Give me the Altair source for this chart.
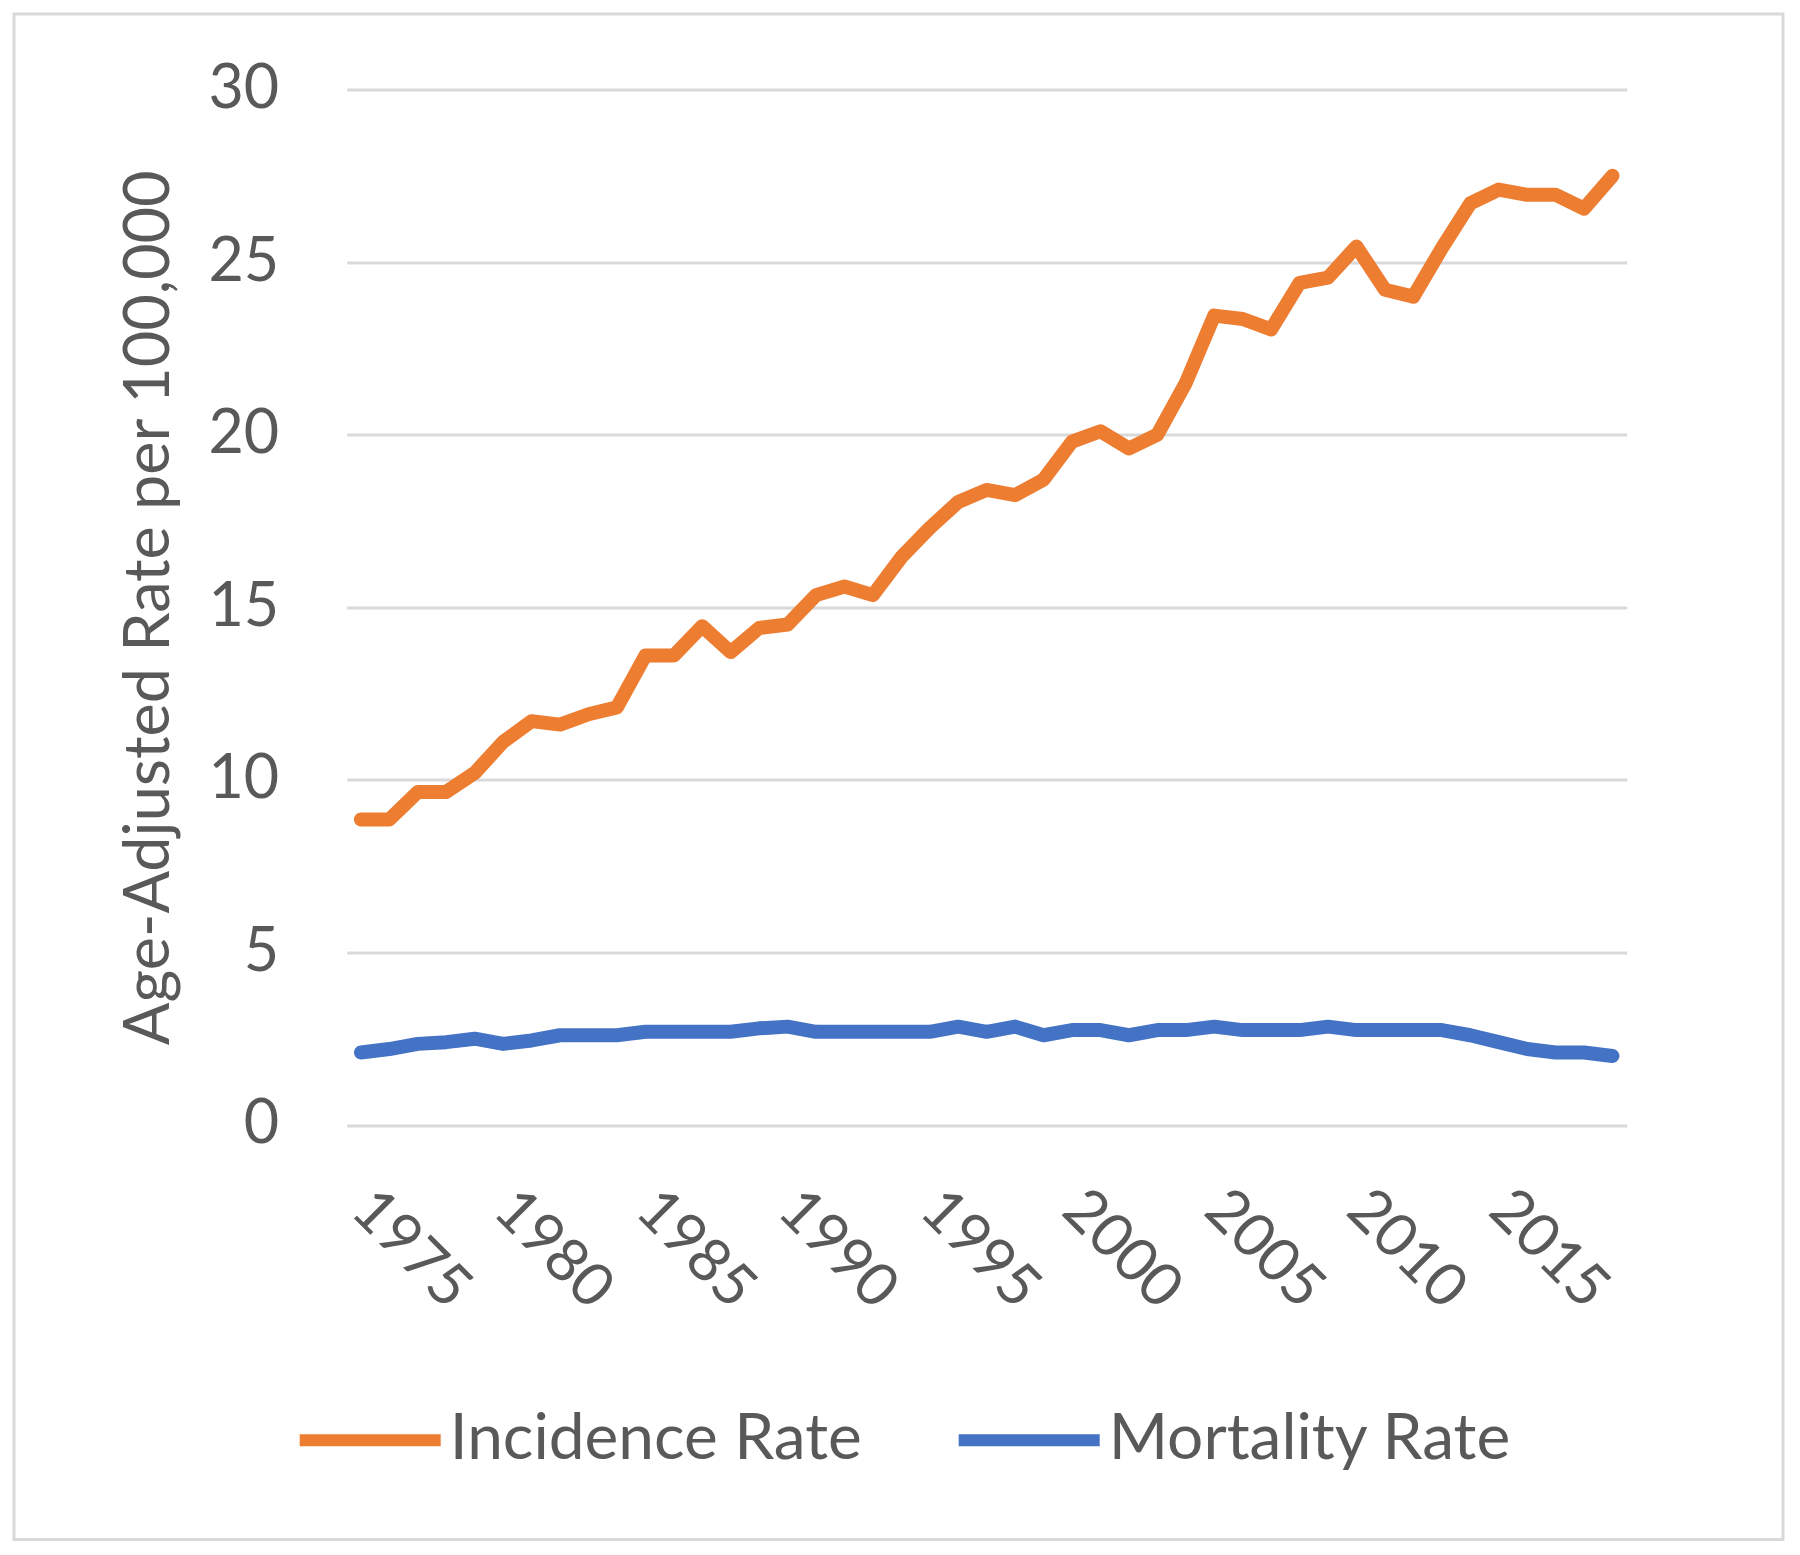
import altair as alt
import pandas as pd

years = list(range(1975, 2020))
incidence = [8.85, 8.85, 9.65, 9.65, 10.2, 11.1, 11.7, 11.6, 11.9, 12.1,
             13.6, 13.6, 14.45, 13.7, 14.4, 14.5, 15.35, 15.6, 15.35, 16.45,
             17.3, 18.05, 18.4, 18.25, 18.7, 19.8, 20.1, 19.6, 20.0, 21.5,
             23.45, 23.35, 23.05, 24.4, 24.55, 25.45, 24.2, 24.0, 25.4, 26.7,
             27.1, 26.95, 26.95, 26.55, 27.5]
mortality = [2.1, 2.2, 2.35, 2.4, 2.5, 2.35, 2.45, 2.6, 2.6, 2.6,
             2.7, 2.7, 2.7, 2.7, 2.8, 2.85, 2.7, 2.7, 2.7, 2.7,
             2.7, 2.85, 2.7, 2.85, 2.6, 2.75, 2.75, 2.6, 2.75, 2.75,
             2.85, 2.75, 2.75, 2.75, 2.85, 2.75, 2.75, 2.75, 2.75, 2.6,
             2.4, 2.2, 2.1, 2.1, 2.0]
series_names = ["Incidence Rate", "Mortality Rate"]
series_colors = ["#ED7D31", "#4472C4"]
x_tick_years = [1975, 1980, 1985, 1990, 1995, 2000, 2005, 2010, 2015]
y_ticks = [0, 5, 10, 15, 20, 25, 30]

rows = []
for name, vals in zip(series_names, [incidence, mortality]):
    for yr, v in zip(years, vals):
        rows.append({"year": yr, "value": v, "series": name})
df = pd.DataFrame(rows)

FONT = "Lato"
TEXT = "#595959"

lines = alt.Chart(df).mark_line(strokeWidth=14, strokeCap="round", strokeJoin="round").encode(
    x=alt.X("year:Q",
            scale=alt.Scale(domain=[1974.5, 2019.5], nice=False, zero=False),
            axis=alt.Axis(values=x_tick_years, format="d", labelAngle=45, labelAlign="left",
                          labelBaseline="middle", labelPadding=75, ticks=False, tickSize=0,
                          domain=False, grid=False, labelFontSize=60, labelFont=FONT,
                          labelColor=TEXT, title=None, labelFlush=False, labelOverlap=False)),
    y=alt.Y("value:Q",
            scale=alt.Scale(domain=[0, 30], nice=False),
            axis=alt.Axis(values=y_ticks, ticks=False, tickSize=0, domain=False,
                          grid=True, gridColor="#D9D9D9", gridWidth=3,
                          labelFontSize=61, labelFont=FONT, labelColor=TEXT, labelPadding=68,
                          title="Age-Adjusted Rate per 100,000", titleFont=FONT,
                          titleFontSize=63, titleFontWeight="normal", titleColor=TEXT,
                          titleAngle=-90, titleX=-178, titleY=517.75, titleAlign="center",
                          titleBaseline="alphabetic")),
    color=alt.Color("series:N",
                    scale=alt.Scale(domain=series_names, range=series_colors),
                    legend=alt.Legend(orient="none", legendX=-53, legendY=1274,
                                      direction="horizontal", columns=2, title=None,
                                      symbolType="stroke", symbolSize=19881,
                                      symbolStrokeWidth=12, labelFontSize=64, labelFont=FONT,
                                      labelColor=TEXT, labelOffset=3, columnPadding=72,
                                      padding=0, labelLimit=1000)),
)

border = alt.Chart(pd.DataFrame({"a": [0]})).mark_rect(
    filled=False, stroke="#D9D9D9", strokeWidth=3
).encode(
    x=alt.value(-332.7), x2=alt.value(1436.3), y=alt.value(-75.5), y2=alt.value(1450)
)

chart = alt.layer(border, lines).properties(
    width=1280, height=1035.5,
    autosize=alt.AutoSizeParams(type="none"),
    padding={"left": 338.7, "top": 81.5, "right": 165, "bottom": 418},
    background="white",
).configure_view(stroke=None)

chart.save("out.html", embed_options={"renderer": "svg", "actions": False})
